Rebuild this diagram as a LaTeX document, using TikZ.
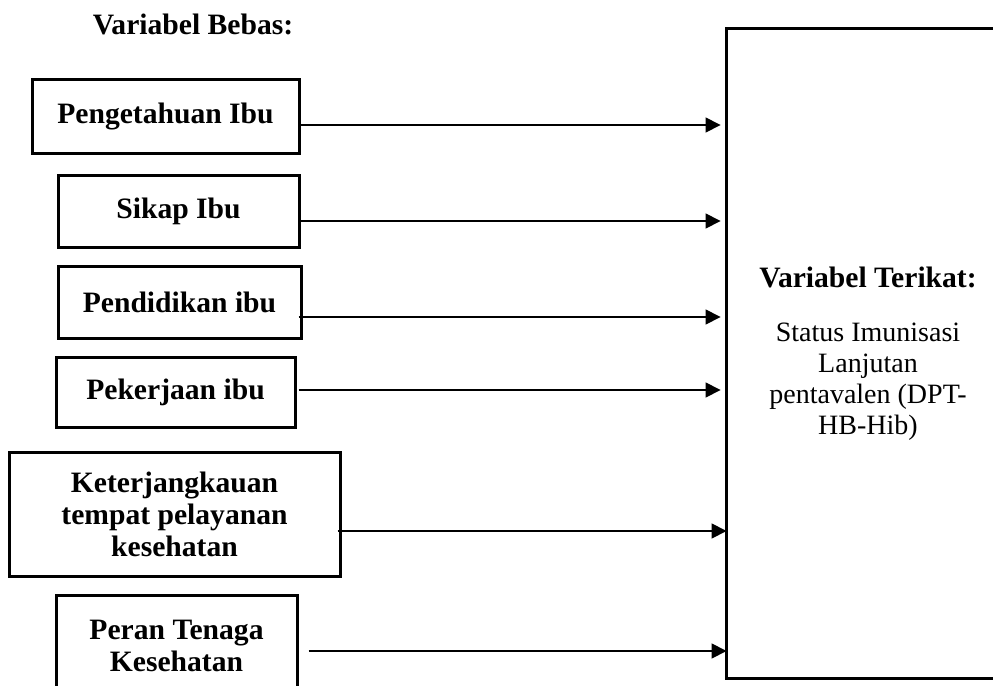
\documentclass[tikz,border=0pt]{standalone}
\usepackage{fontspec}
\setmainfont{Liberation Serif}
\usetikzlibrary{arrows.meta}

\tikzset{
  teks/.style={font=\fontsize{14pt}{15.5pt}\selectfont},
  tebal/.style={font=\fontsize{14.8pt}{16pt}\selectfont\bfseries},
  bebas/.style={tebal, draw, line width=1.5pt, align=center, inner sep=2pt},
  panah/.style={line width=0.6pt, -{Triangle[length=7.5pt,width=7.5pt]}}
}

\begin{document}
\begin{tikzpicture}[x=0.5pt, y=-0.5pt]
\useasboundingbox (0,0) rectangle (993,686);
\clip (0,0) rectangle (993,686);
\node[tebal] (judul) at (193,24) {Variabel Bebas:};
\node[bebas, minimum width=133.5pt, minimum height=37pt] (tahu) at (165.5,116) {Pengetahuan Ibu};
\node[bebas, minimum width=120.5pt, minimum height=36pt] (sikap) at (178.5,211) {Sikap Ibu};
\node[bebas, minimum width=121.5pt, minimum height=36pt] (didik) at (179.5,302) {Pendidikan ibu};
\node[bebas, minimum width=119.5pt, minimum height=35pt] (kerja) at (175.5,392) {Pekerjaan ibu};
\node[bebas, minimum width=165.5pt, minimum height=62pt] (jangkau) at (174.5,514)
    {Keterjangkauan\\tempat pelayanan\\kesehatan};
\node[bebas, minimum width=120.5pt, minimum height=51pt] (peran) at (176.5,646)
    {Peran Tenaga\\Kesehatan};
\node[teks, align=center, minimum width=141pt, minimum height=324.5pt] (terikat) at (868,353.5)
    {{\fontsize{14.8pt}{16pt}\selectfont\bfseries Variabel Terikat:}\\[11.5pt]Status Imunisasi\\Lanjutan\\pentavalen (DPT-\\HB-Hib)};
\draw[line width=1.5pt] (terikat.north east) -- (terikat.north west) -- (terikat.south west) -- (terikat.south east);
\coordinate (a1) at ([yshift=-4.5pt]tahu.east);
\coordinate (a2) at ([yshift=-5pt]sikap.east);
\coordinate (a3) at ([xshift=-2pt,yshift=-7.5pt]didik.east);
\coordinate (a4) at ([xshift=1pt,yshift=1pt]kerja.east);
\coordinate (a5) at ([xshift=-2pt,yshift=-8.5pt]jangkau.east);
\coordinate (a6) at ([xshift=5pt,yshift=-2.5pt]peran.east);
\foreach \a in {a1,a2,a3,a4}
  \draw[panah, shorten >=3pt] (\a) -- (\a -| terikat.west);
\foreach \a in {a5,a6}
  \draw[panah] (\a) -- (\a -| terikat.west);
\end{tikzpicture}
\end{document}
